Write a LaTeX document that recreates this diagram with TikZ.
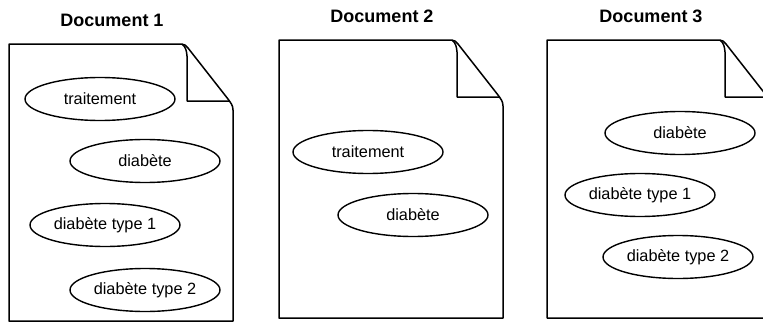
\documentclass[tikz,border=0pt]{standalone}
\usepackage{fontspec}
\setmainfont{Liberation Sans}
\usetikzlibrary{shapes.geometric}

\tikzset{
  term/.style={draw, ellipse, line width=1.4pt, minimum width=150pt,
    minimum height=43pt, inner sep=0pt, font=\fontsize{16.3}{19}\selectfont},
  doctitle/.style={anchor=base, font=\bfseries\fontsize{18}{22}\selectfont},
  page/.style={line width=1.5pt, line join=round}
}

% sheet with a folded corner: #1 = left, #2 = top, #3 = bottom
\newcommand{\sheet}[3]{%
  \draw[page] (#1,#2) -- (#1+172,#2) to[out=0,in=125] (#1+179,#2+4)
    -- (#1+219,#2+55) to[out=-55,in=90] (#1+224,#2+66)
    -- (#1+224,#3) -- (#1,#3) -- cycle;
  \draw[page] (#1+173,#2) to[out=-40,in=95] (#1+178,#2+12)
    -- (#1+178,#2+57) -- (#1+220,#2+57);
}

\begin{document}
\begin{tikzpicture}[x=1pt,y=-1pt]
  \useasboundingbox (0,0) rectangle (763,324);
  \clip (0,0) rectangle (763,324);

  % document 1
  \sheet{9}{44}{321}
  \node[doctitle] (title1) at (112,27) {Document 1};
  \node[term] (d1trait) at (100,99) {traitement};
  \node[term] (d1diab) at (145,161) {diabète};
  \node[term] (d1type1) at (105,225) {diabète type 1};
  \node[term] (d1type2) at (145,290) {diabète type 2};

  % document 2
  \sheet{279}{40}{318}
  \node[doctitle] (title2) at (382,23) {Document 2};
  \node[term] (d2trait) at (368,152) {traitement};
  \node[term] (d2diab) at (413,215) {diabète};

  % document 3
  \sheet{547}{40}{318}
  \node[doctitle] (title3) at (651,23) {Document 3};
  \node[term] (d3diab) at (680,133) {diabète};
  \node[term] (d3type1) at (640,195) {diabète type 1};
  \node[term] (d3type2) at (678,257) {diabète type 2};
\end{tikzpicture}
\end{document}
